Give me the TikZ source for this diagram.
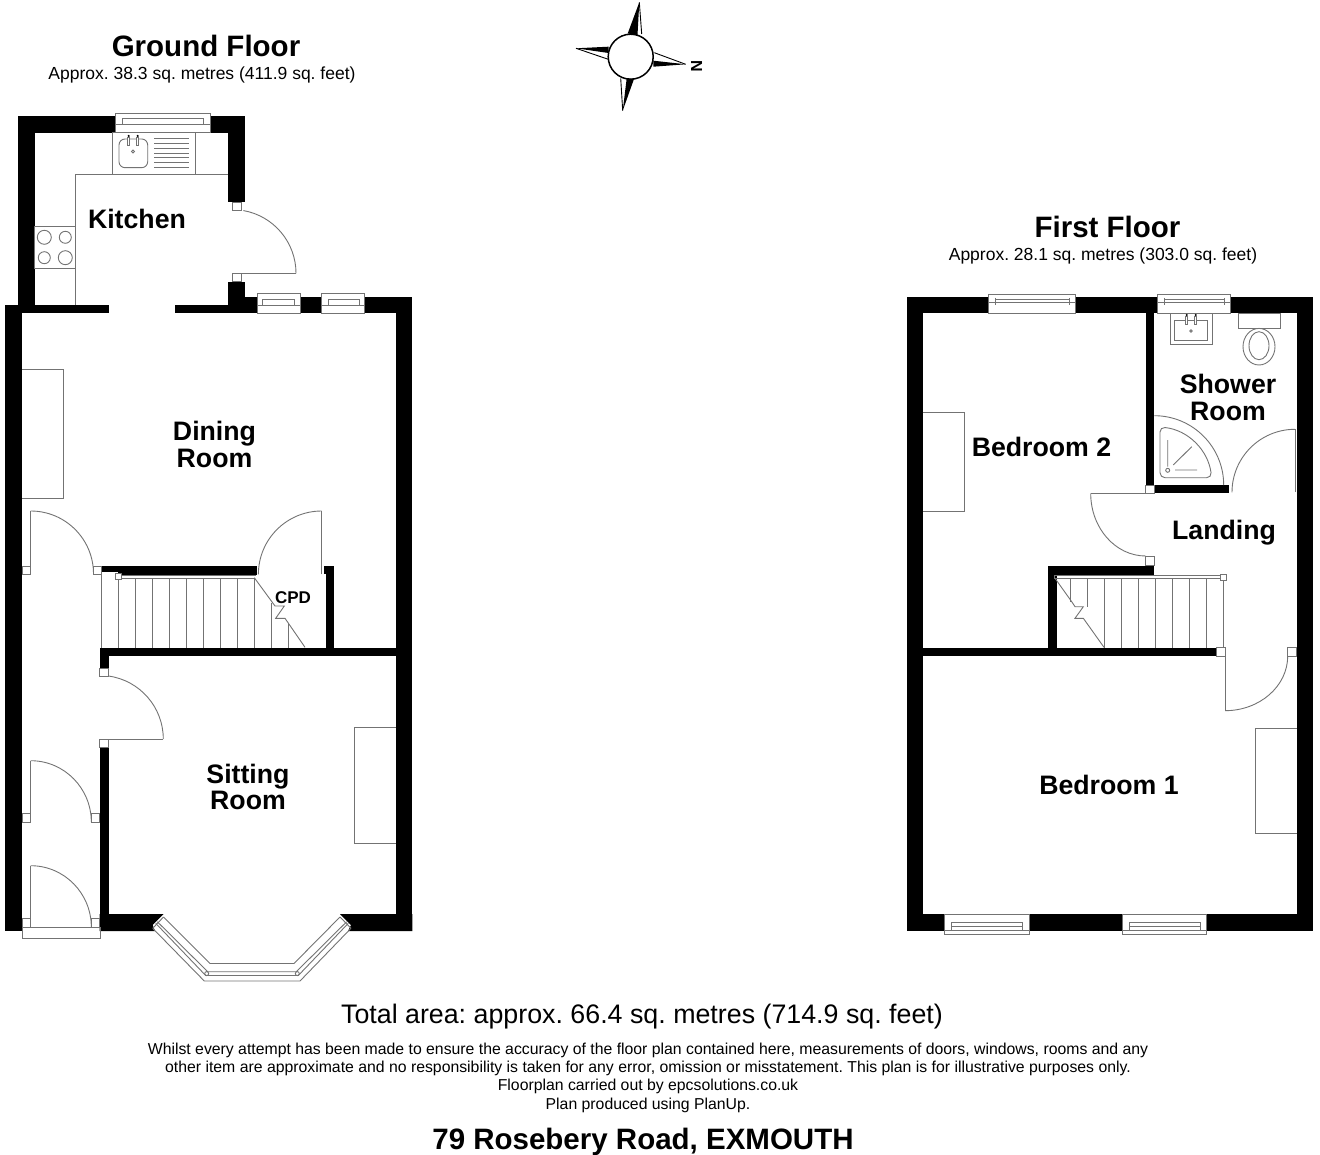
\documentclass[tikz,border=0pt]{standalone}
\usepackage{fontspec}
\setmainfont{Liberation Sans}
\frenchspacing
\tikzset{
    wallfill/.style = {fill = black},
    fixture/.style = {draw = black!55, line width = 0.9pt},
    framed/.style = {draw = black!55, line width = 0.9pt, fill = white},
    roomlabel/.style = {font = {\fontsize{26.7}{26.2}\selectfont\bfseries}, black, align = center, inner sep = 0pt},
    titlelabel/.style = {font = {\fontsize{29.5}{29}\selectfont\bfseries}, black, inner sep = 0pt},
    arealabel/.style = {font = {\fontsize{17.5}{18}\selectfont}, black, inner sep = 0pt},
    noticelabel/.style = {font = {\fontsize{15.8}{18}\selectfont}, black, inner sep = 0pt}
}

\begin{document}
\begin{tikzpicture}[x = 1pt, y = -1pt]
        \useasboundingbox (0, 0) rectangle (1320, 1155);

        \fill[wallfill] (17.5, 115.7) rectangle (34.5, 305);
        \fill[wallfill] (17.5, 115.7) rectangle (245, 132.7);
        \fill[wallfill] (228, 115.7) rectangle (245, 202);
        \fill[wallfill] (228, 281.7) rectangle (245, 313.3);
        \fill[wallfill] (245, 296.7) rectangle (412.3, 313.3);
        \fill[wallfill] (5.3, 304.7) rectangle (109, 313.3);
        \fill[wallfill] (175, 304.7) rectangle (245, 313.3);
        \fill[wallfill] (5.3, 304.7) rectangle (22, 931);
        \fill[wallfill] (395.7, 296.7) rectangle (412.3, 931);
        \fill[wallfill] (101.7, 566) rectangle (118, 572);
        \fill[wallfill] (118, 566) rectangle (256.7, 575);
        \fill[wallfill] (324, 566) rectangle (334, 574.3);
        \fill[wallfill] (325.7, 566) rectangle (334, 656);
        \fill[wallfill] (99.7, 647.7) rectangle (412, 656);
        \fill[wallfill] (99.7, 647.7) rectangle (108.7, 668.3);
        \fill[wallfill] (99.7, 747.7) rectangle (108.7, 931);
        \fill[wallfill] (99.7, 914) -- (163.7, 914) -- (152.7, 925) -- (155, 931) -- (99.7, 931) -- cycle;
        \fill[wallfill] (340, 914) -- (351, 925) -- (348, 931) -- (412.3, 931) -- (412.3, 914) -- cycle;

        \draw[framed] (115.7, 113) rectangle (210, 132.7);
        \draw[fixture] (115.7, 124) -- (210, 124);
        \draw[fixture] (122, 118) rectangle (203, 124);
        \draw[framed] (257.3, 293.3) rectangle (300.7, 313.3);
        \draw[fixture] (257.3, 305) -- (300.7, 305);
        \draw[fixture] (262.7, 299) rectangle (294.3, 305);
        \draw[framed] (321.3, 293.3) rectangle (364.7, 313.3);
        \draw[fixture] (321.3, 305) -- (364.7, 305);
        \draw[fixture] (328, 299) rectangle (359, 305);

        \draw[fixture] (75.7, 305) -- (75.7, 174) -- (228, 174);
        \draw[fixture] (112.7, 132.7) rectangle (195.3, 174);
        \draw[fixture, rounded corners = 6pt] (119, 139) rectangle (147.7, 167.7);
        \draw[framed] (127.7, 137) rectangle (129.7, 145);
        \draw[framed] (136.7, 137) rectangle (138.7, 145);
        \fill[black] (128.7, 136) circle[radius = 1.2];
        \fill[black] (137.7, 136) circle[radius = 1.2];
        \draw[fixture] (133, 151.5) circle[radius = 1.5];
        \draw[fixture] (154, 138.7) -- (189, 138.7) (154, 143.4) -- (189, 143.4) (154, 148) -- (189, 148) (154, 153) -- (189, 153) (154, 157.7) -- (189, 157.7) (154, 162.7) -- (189, 162.7) (154, 167.3) -- (189, 167.3);
        \draw[fixture] (34.5, 226.7) rectangle (75.7, 268);
        \draw[fixture] (44.3, 237.3) circle[radius = 7];
        \draw[fixture] (65.3, 237.3) circle[radius = 6];
        \draw[fixture] (44.3, 257.7) circle[radius = 6];
        \draw[fixture] (65.3, 257.7) circle[radius = 7];

        \draw[fixture] (232.3, 202) rectangle (241.3, 210.7);
        \draw[fixture] (232.3, 281.7) rectangle (241.3, 273.3);
        \draw[fixture] (232.3, 273.3) -- (296, 273.3);
        \draw[fixture] (296, 273.3) arc[start angle = 0, end angle = -80, radius = 63.7];

        \draw[fixture] (22, 369.3) -- (63.3, 369.3) -- (63.3, 498) -- (22, 498);
        \draw[fixture] (395.7, 727.7) -- (354.3, 727.7) -- (354.3, 843) -- (395.7, 843);

        \draw[fixture] (22, 566) rectangle (30.7, 574.3);
        \draw[fixture] (30.7, 574) -- (30.7, 511);
        \draw[fixture] (30.7, 511) arc[start angle = -90, end angle = 0, radius = 62.8];
        \draw[fixture] (93.3, 566) rectangle (101.7, 574.3);

        \draw[fixture] (321.7, 574.3) -- (321.7, 511);
        \draw[fixture] (321.7, 511) arc[start angle = -90, end angle = -180, radius = 63.3];

        \draw[fixture] (118, 575) -- (256, 575) (121, 578.3) -- (254.3, 578.3);
        \draw[framed] (115.3, 573.7) rectangle (121.3, 579.3);
        \draw[fixture] (101.3, 574) -- (101.3, 647.7) (118.3, 579) -- (118.3, 647.7) (135.3, 578.3) -- (135.3, 647.7) (152.3, 578.3) -- (152.3, 647.7) (169.3, 578.3) -- (169.3, 647.7) (186.3, 578.3) -- (186.3, 647.7) (203.3, 578.3) -- (203.3, 647.7) (220.3, 578.3) -- (220.3, 647.7) (237.3, 578.3) -- (237.3, 647.7) (254.3, 578.3) -- (254.3, 647.7) (271.3, 603) -- (271.3, 647.7) (288.3, 623) -- (288.3, 647.7);
        \draw[fixture] (254.3, 577.7) -- (275, 606) -- (284.3, 606) -- (275.7, 618.3) -- (285, 618.3) -- (305, 647.3);

        \draw[framed] (99.7, 668.3) rectangle (108.7, 676.7);
        \draw[framed] (99.7, 739) rectangle (108.7, 747.7);
        \draw[fixture] (99.7, 739) -- (163.3, 739);
        \draw[fixture] (163.3, 739) arc[start angle = 0, end angle = -82, radius = 63.6];

        \draw[fixture] (22, 813.3) rectangle (30.7, 822.3);
        \draw[fixture] (30.7, 813.3) -- (30.7, 760.7);
        \draw[fixture] (30.7, 760.7) arc[start angle = -90, end angle = 0, x radius = 60.6, y radius = 61.3];
        \draw[fixture] (91.3, 813.3) rectangle (99.7, 822.3);
        \draw[fixture] (22, 918.3) rectangle (30.7, 927);
        \draw[fixture] (30.7, 918.3) -- (30.7, 865.7);
        \draw[fixture] (30.7, 865.7) arc[start angle = -90, end angle = 0, x radius = 60.6, y radius = 61.3];
        \draw[fixture] (91.3, 918.3) rectangle (99.7, 927);
        \draw[fixture] (22, 927) rectangle (100, 938.3);

        \draw[fixture] (152.7, 928.3) -- (204.3, 981) -- (300, 981) -- (351, 928.3);
        \draw[fixture] (163.5, 917) -- (210, 963.5) -- (294, 963.5) -- (340, 917);
        \draw[fixture] (157.3, 921.7) -- (207.7, 971.7) -- (296.3, 971.7) -- (346.7, 921.7);
        \draw[fixture] (155.7, 923.3) -- (205.7, 975.5) -- (298.3, 975.5) -- (348.3, 923.3);
        \draw[fixture] (152.7, 928.3) -- (163.5, 917) (351, 928.3) -- (340, 917);
        \draw[fixture] (206.7, 973.6) circle[radius = 2];
        \draw[fixture] (297.3, 973.6) circle[radius = 2];

        \fill[wallfill] (907, 296.7) rectangle (1313.3, 313.3);
        \fill[wallfill] (907, 296.7) rectangle (922.7, 931);
        \fill[wallfill] (1296.7, 296.7) rectangle (1313.3, 931);
        \fill[wallfill] (907, 914) rectangle (1313.3, 931);
        \fill[wallfill] (1145.7, 313) rectangle (1154.3, 485);
        \fill[wallfill] (1154.3, 485) rectangle (1229.3, 493.3);
        \fill[wallfill] (1048.3, 566) rectangle (1154, 575);
        \fill[wallfill] (1048.3, 566) rectangle (1056.7, 656);
        \fill[wallfill] (922.7, 647.7) rectangle (1216.7, 656);

        \draw[framed] (988, 294) rectangle (1075, 313.3);
        \draw[fixture] (988, 302) -- (1075, 302);
        \draw[fixture] (995, 299) rectangle (1069.3, 302);
        \draw[fixture] (995, 298) -- (995, 305) (1069.3, 298) -- (1069.3, 305);
        \draw[framed] (1157.7, 294) rectangle (1230.7, 313.3);
        \draw[fixture] (1157.7, 302) -- (1230.7, 302);
        \draw[fixture] (1164, 299) rectangle (1224, 302);
        \draw[fixture] (1164, 298) -- (1164, 305) (1224, 298) -- (1224, 305);
        \draw[framed] (944.3, 914.3) rectangle (1029, 934);
        \draw[fixture] (944.3, 930.7) -- (1029, 930.7);
        \draw[fixture] (951.7, 922.7) rectangle (1022.3, 926.7);
        \draw[fixture] (951.7, 922) -- (951.7, 930) (1022.3, 922) -- (1022.3, 930);
        \draw[framed] (1122, 914.3) rectangle (1206.7, 934);
        \draw[fixture] (1122, 930.7) -- (1206.7, 930.7);
        \draw[fixture] (1129.4, 922.7) rectangle (1200, 926.7);
        \draw[fixture] (1129.4, 922) -- (1129.4, 930) (1200, 922) -- (1200, 930);

        \draw[fixture] (922.7, 412) -- (964.5, 412) -- (964.5, 511) -- (922.7, 511);
        \draw[fixture] (1296.7, 728) -- (1255, 728) -- (1255, 833) -- (1296.7, 833);

        \draw[fixture] (1170.3, 313.3) rectangle (1212.3, 344);
        \draw[fixture] (1174.3, 320.7) rectangle (1207.7, 340);
        \draw[framed] (1185.7, 316) rectangle (1187.7, 324.3);
        \draw[framed] (1194.7, 316) rectangle (1196.7, 324.3);
        \fill[black] (1186.7, 315) circle[radius = 1.2];
        \fill[black] (1195.7, 315) circle[radius = 1.2];
        \draw[fixture] (1191, 331) circle[radius = 1.2];
        \draw[fixture] (1238.3, 313.3) rectangle (1280.3, 328.3);
        \draw[fixture] (1259, 346.7) circle[x radius = 16, y radius = 18.3];
        \draw[fixture] (1259, 345.7) circle[x radius = 10, y radius = 14];

        \draw[fixture] (1154.3, 415.7) arc[start angle = -90, end angle = 0, radius = 69.4];
        \draw[fixture, rounded corners = 5pt] (1160, 477.7) -- (1160, 427) .. controls (1188, 430) and (1208, 450) .. (1211.7, 477.7) -- cycle;
        \draw[fixture] (1167.7, 440) -- (1167.7, 466.7) (1175, 470) -- (1197, 470) (1173.3, 465) -- (1191.7, 446.7);
        \draw[fixture] (1167.7, 470.3) circle[radius = 2];

        \draw[fixture] (1295, 492) -- (1295, 429.3);
        \draw[fixture] (1295, 429.3) arc[start angle = -90, end angle = -180, radius = 63];

        \draw[framed] (1145.7, 485) rectangle (1154.3, 493.3);
        \draw[fixture] (1145.7, 493.3) -- (1090.7, 493.3);
        \draw[fixture] (1090.7, 493.3) arc[start angle = 180, end angle = 90, x radius = 55, y radius = 62.7];
        \draw[framed] (1145.7, 556) rectangle (1154, 565);

        \draw[fixture] (1054, 575) -- (1223, 575) (1054, 575) -- (1054, 578.3) -- (1223, 578.3);
        \draw[framed] (1220.3, 574) rectangle (1226.7, 580);
        \draw[fixture] (1070.3, 578.3) -- (1070.3, 601.7) (1087.3, 578.3) -- (1087.3, 606.7) (1104.3, 578.3) -- (1104.3, 647.7) (1121.3, 578.3) -- (1121.3, 647.7) (1138.3, 578.3) -- (1138.3, 647.7) (1155.3, 578.3) -- (1155.3, 647.7) (1172.3, 578.3) -- (1172.3, 647.7) (1189.3, 578.3) -- (1189.3, 647.7) (1206.3, 578.3) -- (1206.3, 647.7) (1223.3, 580) -- (1223.3, 647.7);
        \draw[fixture] (1055, 578.3) -- (1071.7, 601.7) -- (1075, 606.7) -- (1083.3, 606.7) -- (1075, 618.3) -- (1083.3, 618.3) -- (1104, 647.3);

        \draw[framed] (1216.7, 647.7) rectangle (1225, 656);
        \draw[framed] (1287.7, 647.7) rectangle (1296.7, 656);
        \draw[fixture] (1225, 656) -- (1225, 710.7);
        \draw[fixture] (1225, 710.7) arc[start angle = 90, end angle = 0, x radius = 62.7, y radius = 54.7];

        \draw[black, line width = 1.5pt, fill = white] (630.7, 56.7) circle[radius = 22.5];
        \fill[black] (639.3, 2.3) -- (627.7, 33.5) -- (637.5, 35) -- cycle;
        \draw[fixture, black] (639.3, 2.3) -- (641.7, 34);
        \fill[black] (576, 48.3) -- (608.5, 46.7) -- (608.5, 53) -- cycle;
        \draw[fixture, black] (576, 48.3) -- (608.3, 59.3);
        \fill[black] (685.7, 64.3) -- (653.3, 60.7) -- (653.3, 66.7) -- cycle;
        \draw[fixture, black] (685.7, 64.3) -- (654.3, 52.7);
        \fill[black] (622.7, 110.7) -- (634, 79) -- (626.7, 78.5) -- cycle;
        \draw[fixture, black] (622.7, 110.7) -- (620.7, 78.3);
        \node[font = {\fontsize{16}{16}\selectfont\bfseries}, black, rotate = -90, inner sep = 0pt] (north) at (696.7, 66.7) {N};

        \node[titlelabel] (groundtitle) at (206, 46) {Ground Floor};
        \node[arealabel] (groundarea) at (202, 74.5) {Approx. 38.3 sq. metres (411.9 sq. feet)};
        \node[titlelabel] (firsttitle) at (1107.5, 227) {First Floor};
        \node[arealabel] (firstarea) at (1103, 255.5) {Approx. 28.1 sq. metres (303.0 sq. feet)};

        \node[roomlabel] (kitchen) at (137, 219) {Kitchen};
        \node[roomlabel] (dining) at (214.5, 444.5) {Dining\\Room};
        \node[roomlabel] (sitting) at (248, 787) {Sitting\\Room};
        \node[font = {\fontsize{17}{17}\selectfont\bfseries}, black, inner sep = 0pt] (cpd) at (293, 597.5) {CPD};
        \node[roomlabel] (bedtwo) at (1041.5, 447) {Bedroom 2};
        \node[roomlabel] (shower) at (1228, 397.5) {Shower\\Room};
        \node[roomlabel] (landing) at (1224, 532.5) {Landing};
        \node[roomlabel] (bedone) at (1109, 785) {Bedroom 1};

        \node[font = {\fontsize{26.8}{27}\selectfont}, black, inner sep = 0pt] (total) at (642, 1017) {Total area: approx. 66.4 sq. metres (714.9 sq. feet)};
        \node[noticelabel] (noticeone) at (648, 1050) {Whilst every attempt has been made to ensure the accuracy of the floor plan contained here, measurements of doors, windows, rooms and any};
        \node[noticelabel] (noticetwo) at (648, 1068.5) {other item are approximate and no responsibility is taken for any error, omission or misstatement. This plan is for illustrative purposes only.};
        \node[noticelabel] (noticethree) at (648, 1086) {Floorplan carried out by epcsolutions.co.uk};
        \node[noticelabel] (noticefour) at (648, 1105) {Plan produced using PlanUp.};
        \node[titlelabel] (address) at (643, 1142) {79 Rosebery Road, EXMOUTH};
    \end{tikzpicture}
\end{document}
